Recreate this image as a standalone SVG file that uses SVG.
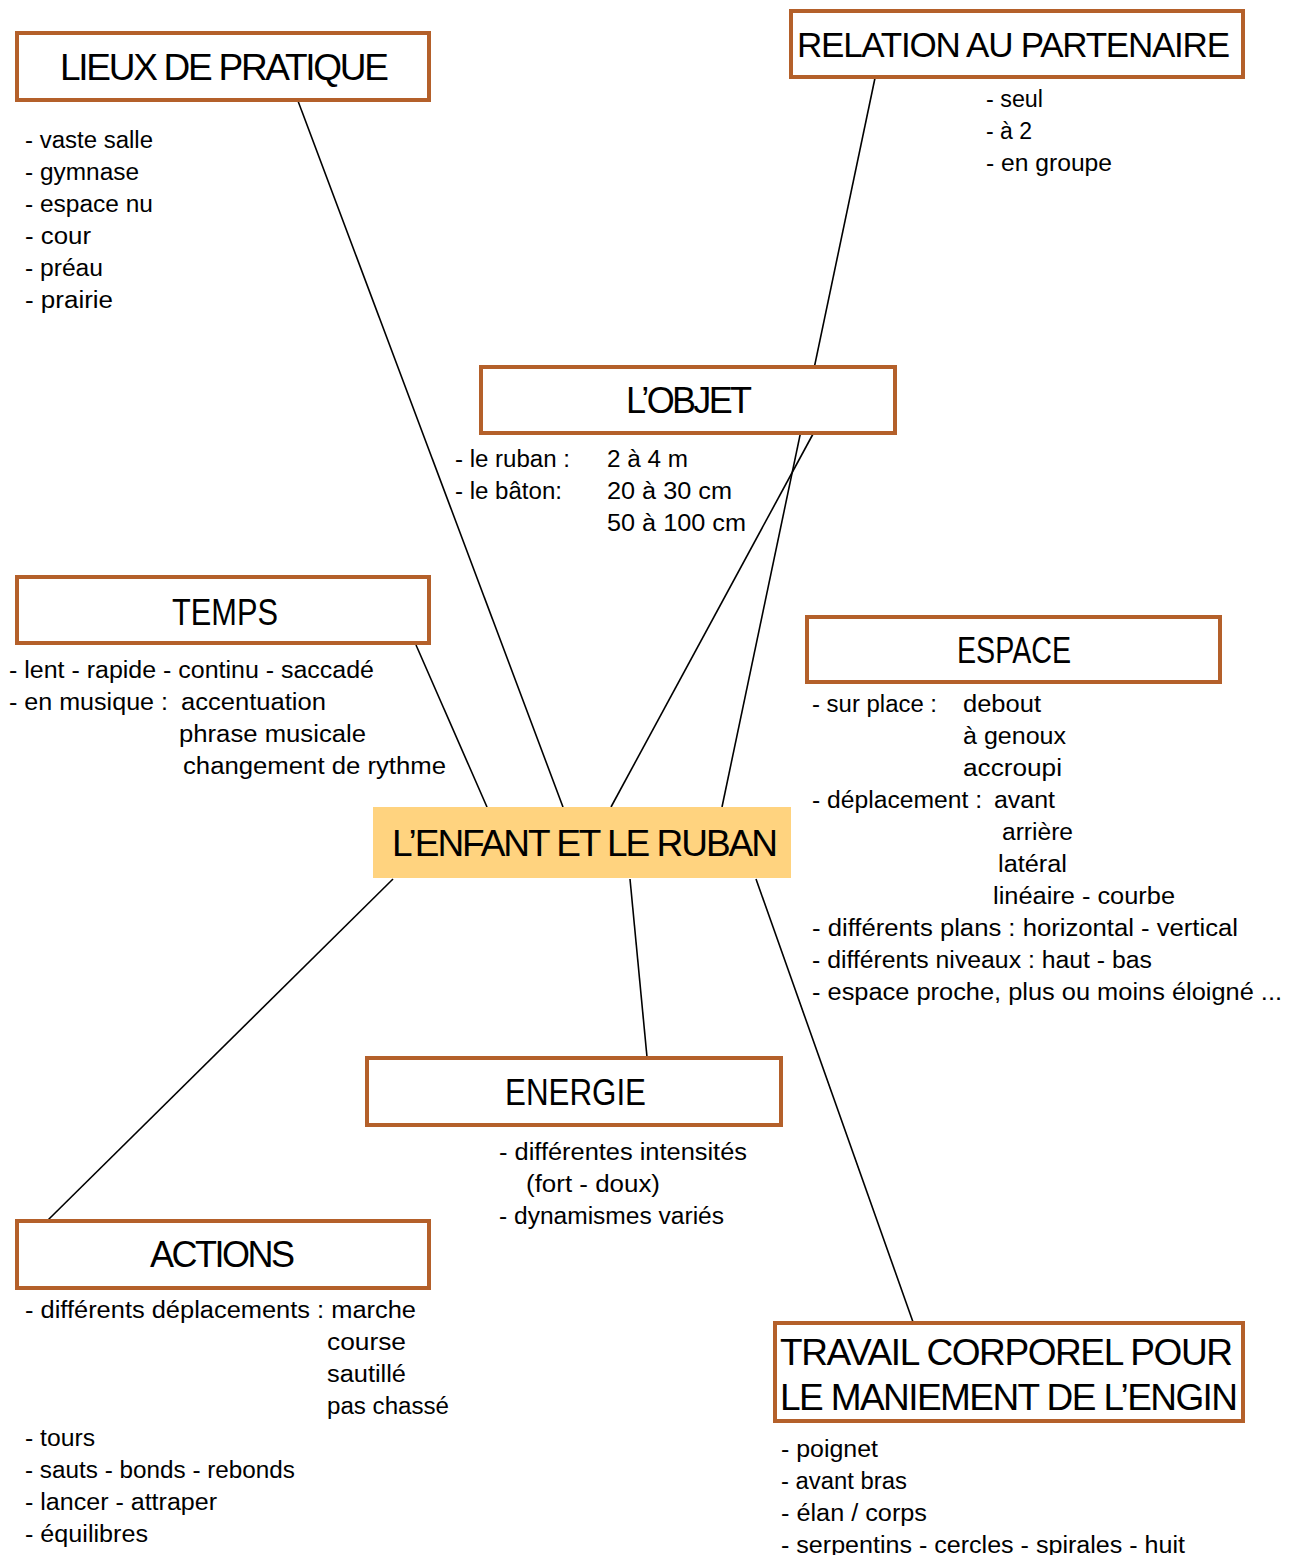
<svg xmlns="http://www.w3.org/2000/svg" width="1295" height="1555" viewBox="0 0 1295 1555">
<style>
.box{fill:#fff;stroke:#B4602A;stroke-width:4}
.hd{font-family:"Liberation Sans",Arial,sans-serif;font-size:36px;fill:#000}
.tx{font-family:"Liberation Sans",Arial,sans-serif;font-size:23px;fill:#000}
.ln{stroke:#000;stroke-width:1.6;fill:none}
</style>
<rect width="1295" height="1555" fill="#fff"/>
<g id="connectors">
<line class="ln" x1="298" y1="101" x2="563" y2="807"/>
<line class="ln" x1="875" y1="78" x2="722" y2="807"/>
<line class="ln" x1="813" y1="434" x2="611" y2="807"/>
<line class="ln" x1="416" y1="645" x2="487" y2="807"/>
<line class="ln" x1="393" y1="879" x2="48" y2="1220"/>
<line class="ln" x1="630" y1="879" x2="647" y2="1057"/>
<line class="ln" x1="756" y1="879" x2="913" y2="1322"/>
</g>
<g id="center">
<rect x="373" y="807" width="418" height="71" fill="#FFD37F"/>
<text class="hd" x="392" y="856" textLength="386" lengthAdjust="spacing" style="font-size:37px">L’ENFANT ET LE RUBAN</text>
</g>
<g id="lieux">
<rect class="box" x="17" y="33" width="412" height="67"/>
<text class="hd" x="60" y="80" textLength="329" lengthAdjust="spacing" style="font-size:37px">LIEUX DE PRATIQUE</text>
<text class="tx" x="25" y="148" textLength="128" lengthAdjust="spacingAndGlyphs">- vaste salle</text>
<text class="tx" x="25" y="180" textLength="114" lengthAdjust="spacingAndGlyphs">- gymnase</text>
<text class="tx" x="25" y="212" textLength="128" lengthAdjust="spacingAndGlyphs">- espace nu</text>
<text class="tx" x="25" y="244" textLength="66" lengthAdjust="spacingAndGlyphs">-  cour</text>
<text class="tx" x="25" y="276" textLength="78" lengthAdjust="spacingAndGlyphs">- préau</text>
<text class="tx" x="25" y="308" textLength="88" lengthAdjust="spacingAndGlyphs">-  prairie</text>
</g>
<g id="relation">
<rect class="box" x="791" y="11" width="452" height="66"/>
<text class="hd" x="797" y="57" textLength="433" lengthAdjust="spacing" style="font-size:35px">RELATION AU PARTENAIRE</text>
<text class="tx" x="986" y="107" textLength="57" lengthAdjust="spacingAndGlyphs">- seul</text>
<text class="tx" x="986" y="139" textLength="46" lengthAdjust="spacingAndGlyphs">- à 2</text>
<text class="tx" x="986" y="171" textLength="126" lengthAdjust="spacingAndGlyphs">- en groupe</text>
</g>
<g id="objet">
<rect class="box" x="481" y="367" width="414" height="66"/>
<text class="hd" x="626" y="413" textLength="126" lengthAdjust="spacing">L’OBJET</text>
<text class="tx" x="455" y="467" textLength="115" lengthAdjust="spacingAndGlyphs">- le ruban :</text>
<text class="tx" x="607" y="467" textLength="81" lengthAdjust="spacingAndGlyphs">2 à 4 m</text>
<text class="tx" x="455" y="499" textLength="107" lengthAdjust="spacingAndGlyphs">- le bâton:</text>
<text class="tx" x="607" y="499" textLength="125" lengthAdjust="spacingAndGlyphs">20 à 30 cm</text>
<text class="tx" x="607" y="531" textLength="139" lengthAdjust="spacingAndGlyphs">50 à 100 cm</text>
</g>
<g id="temps">
<rect class="box" x="17" y="577" width="412" height="66"/>
<text class="hd" x="172" y="625" textLength="106" lengthAdjust="spacingAndGlyphs">TEMPS</text>
<text class="tx" x="9" y="678" textLength="365" lengthAdjust="spacingAndGlyphs">- lent - rapide - continu - saccadé</text>
<text class="tx" x="9" y="710" textLength="159" lengthAdjust="spacingAndGlyphs">- en musique :</text>
<text class="tx" x="181" y="710" textLength="145" lengthAdjust="spacingAndGlyphs">accentuation</text>
<text class="tx" x="179" y="742" textLength="187" lengthAdjust="spacingAndGlyphs">phrase musicale</text>
<text class="tx" x="183" y="774" textLength="263" lengthAdjust="spacingAndGlyphs">changement de rythme</text>
</g>
<g id="espace">
<rect class="box" x="807" y="617" width="413" height="65"/>
<text class="hd" x="957" y="663" textLength="114" lengthAdjust="spacingAndGlyphs">ESPACE</text>
<text class="tx" x="812" y="712" textLength="125" lengthAdjust="spacingAndGlyphs">- sur place :</text>
<text class="tx" x="963" y="712" textLength="78" lengthAdjust="spacingAndGlyphs">debout</text>
<text class="tx" x="963" y="744" textLength="103" lengthAdjust="spacingAndGlyphs">à genoux</text>
<text class="tx" x="963" y="776" textLength="99" lengthAdjust="spacingAndGlyphs">accroupi</text>
<text class="tx" x="812" y="808" textLength="170" lengthAdjust="spacingAndGlyphs">- déplacement :</text>
<text class="tx" x="994" y="808" textLength="61" lengthAdjust="spacingAndGlyphs">avant</text>
<text class="tx" x="1002" y="840" textLength="71" lengthAdjust="spacingAndGlyphs">arrière</text>
<text class="tx" x="998" y="872" textLength="69" lengthAdjust="spacingAndGlyphs">latéral</text>
<text class="tx" x="993" y="904" textLength="182" lengthAdjust="spacingAndGlyphs">linéaire - courbe</text>
<text class="tx" x="812" y="936" textLength="426" lengthAdjust="spacingAndGlyphs">- différents plans : horizontal - vertical</text>
<text class="tx" x="812" y="968" textLength="340" lengthAdjust="spacingAndGlyphs">- différents niveaux : haut - bas</text>
<text class="tx" x="812" y="1000" textLength="470" lengthAdjust="spacingAndGlyphs">- espace proche, plus ou moins éloigné ...</text>
</g>
<g id="energie">
<rect class="box" x="367" y="1058" width="414" height="67"/>
<text class="hd" x="505" y="1105" textLength="141" lengthAdjust="spacingAndGlyphs">ENERGIE</text>
<text class="tx" x="499" y="1160" textLength="248" lengthAdjust="spacingAndGlyphs">- différentes intensités</text>
<text class="tx" x="526" y="1192" textLength="134" lengthAdjust="spacingAndGlyphs">(fort  -  doux)</text>
<text class="tx" x="499" y="1224" textLength="225" lengthAdjust="spacingAndGlyphs">- dynamismes variés</text>
</g>
<g id="actions">
<rect class="box" x="17" y="1221" width="412" height="67"/>
<text class="hd" x="150" y="1267" textLength="145" lengthAdjust="spacing">ACTIONS</text>
<text class="tx" x="25" y="1318" textLength="391" lengthAdjust="spacingAndGlyphs">- différents déplacements : marche</text>
<text class="tx" x="327" y="1350" textLength="79" lengthAdjust="spacingAndGlyphs">course</text>
<text class="tx" x="327" y="1382" textLength="79" lengthAdjust="spacingAndGlyphs">sautillé</text>
<text class="tx" x="327" y="1414" textLength="122" lengthAdjust="spacingAndGlyphs">pas chassé</text>
<text class="tx" x="25" y="1446" textLength="70" lengthAdjust="spacingAndGlyphs">- tours</text>
<text class="tx" x="25" y="1478" textLength="270" lengthAdjust="spacingAndGlyphs">- sauts - bonds - rebonds</text>
<text class="tx" x="25" y="1510" textLength="192" lengthAdjust="spacingAndGlyphs">- lancer - attraper</text>
<text class="tx" x="25" y="1542" textLength="123" lengthAdjust="spacingAndGlyphs">-  équilibres</text>
</g>
<g id="travail">
<rect class="box" x="775" y="1323" width="468" height="98"/>
<text class="hd" x="780" y="1365" textLength="453" lengthAdjust="spacing" style="font-size:37px">TRAVAIL CORPOREL POUR</text>
<text class="hd" x="780" y="1410" textLength="458" lengthAdjust="spacing" style="font-size:37px">LE MANIEMENT DE L’ENGIN</text>
<text class="tx" x="781" y="1457" textLength="97" lengthAdjust="spacingAndGlyphs">-  poignet</text>
<text class="tx" x="781" y="1489" textLength="126" lengthAdjust="spacingAndGlyphs">- avant bras</text>
<text class="tx" x="781" y="1521" textLength="146" lengthAdjust="spacingAndGlyphs">- élan / corps</text>
<text class="tx" x="781" y="1553" textLength="404" lengthAdjust="spacingAndGlyphs">- serpentins - cercles - spirales - huit</text>
</g>
</svg>
